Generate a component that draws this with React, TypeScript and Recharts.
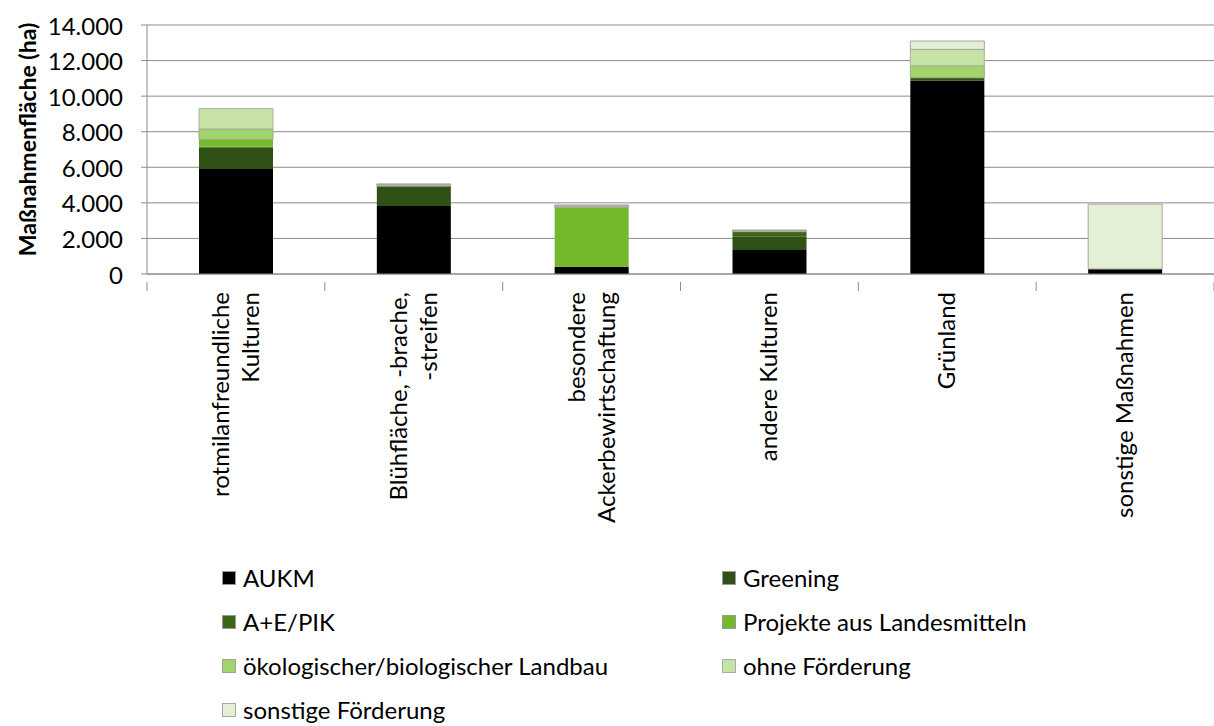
import { Bar, BarChart, CartesianGrid, XAxis, YAxis } from "recharts";

const CATEGORIES: string[] = [
  "rotmilanfreundliche\nKulturen",
  "Blühfläche, -brache,\n-streifen",
  "besondere\nAckerbewirtschaftung",
  "andere Kulturen",
  "Grünland",
  "sonstige Maßnahmen",
];

const AUKM: number[] = [5900, 3820, 400, 1350, 10870, 280];
const GREENING: number[] = [1200, 1100, 20, 750, 100, 0];
const AE_PIK: number[] = [60, 30, 0, 280, 70, 0];
const PROJEKTE: number[] = [410, 0, 3310, 0, 0, 0];
const OEKO: number[] = [580, 30, 50, 20, 670, 0];
const OHNE: number[] = [1150, 60, 60, 50, 920, 0];
const SONSTIGE: number[] = [0, 20, 40, 20, 470, 3650];

const Y_TICKS: number[] = [0, 2000, 4000, 6000, 8000, 10000, 12000, 14000];

const SERIES = [
  { key: "aukm", name: "AUKM", values: AUKM, color: "#000000", stroke: "none" },
  { key: "greening", name: "Greening", values: GREENING, color: "#2f5117", stroke: "none" },
  { key: "aepik", name: "A+E/PIK", values: AE_PIK, color: "#3b6614", stroke: "none" },
  { key: "projekte", name: "Projekte aus Landesmitteln", values: PROJEKTE, color: "#74b929", stroke: "none" },
  { key: "oeko", name: "ökologischer/biologischer Landbau", values: OEKO, color: "#a3d36d", stroke: "#9aa88c" },
  { key: "ohne", name: "ohne Förderung", values: OHNE, color: "#c6e2a6", stroke: "#a8b09e" },
  { key: "sonstige", name: "sonstige Förderung", values: SONSTIGE, color: "#e3f0d6", stroke: "#a6a6a6" },
];

const data = CATEGORIES.map((name, i) => {
  const row: Record<string, string | number> = { name };
  SERIES.forEach((s) => {
    row[s.key] = s.values[i];
  });
  return row;
});

const FONT = "Lato, 'Open Sans', sans-serif";
const WIDTH = 1214;
const HEIGHT = 726;
const LEFT = 147;
const RIGHT = 0;
const BAND = (WIDTH - LEFT - RIGHT) / CATEGORIES.length;

const fmt = (v: number) => v.toLocaleString("de-DE");

const XTick = (props: any) => {
  const { x, y, payload, index } = props;
  const lines: string[] = String(payload.value).split("\n");
  const ty = y + 10;
  const spacing = 30;
  const start = -((lines.length - 1) * spacing) / 2;
  return (
    <g>
      <line x1={x - BAND / 2} x2={x - BAND / 2} y1={y} y2={y + 9} stroke="#8c8c8c" />
      {index === CATEGORIES.length - 1 && (
        <line x1={x + BAND / 2} x2={x + BAND / 2} y1={y} y2={y + 9} stroke="#8c8c8c" />
      )}
      <text
        transform={`rotate(-90, ${x}, ${ty})`}
        x={x}
        y={ty}
        textAnchor="end"
        fill="#000"
        fontSize={24}
        fontFamily={FONT}
      >
        {lines.map((l, i) => (
          <tspan key={i} x={x} y={ty + start + i * spacing + 8}>
            {l}
          </tspan>
        ))}
      </text>
    </g>
  );
};

const YTick = (props: any) => {
  const { x, y, payload } = props;
  return (
    <text x={x - 16} y={y} textAnchor="end" dominantBaseline="central" fill="#000" fontSize={24} fontFamily={FONT}>
      {fmt(payload.value)}
    </text>
  );
};

const ChartLegend = () => (
  <div
    style={{
      position: "absolute",
      left: 222,
      top: 563,
      display: "grid",
      gridTemplateColumns: "500px 420px",
      rowGap: 15,
      fontFamily: FONT,
      fontSize: 24,
      color: "#000",
    }}
  >
    {SERIES.map((s) => (
      <div key={s.key} style={{ display: "flex", alignItems: "center", height: 29 }}>
        <span
          style={{
            display: "inline-block",
            width: 14,
            height: 14,
            background: s.color,
            border: `1px solid ${s.stroke === "none" ? "#9a9a9a" : s.stroke}`,
            marginRight: 7,
            boxSizing: "border-box",
          }}
        />
        {s.name}
      </div>
    ))}
  </div>
);

const YLabel = (props: any) => {
  const { viewBox } = props;
  const cx = 27;
  const cy = viewBox.y + viewBox.height / 2 - 10;
  return (
    <text
      x={cx}
      y={cy}
      transform={`rotate(-90, ${cx}, ${cy})`}
      textAnchor="middle"
      dominantBaseline="central"
      fontSize={23}
      fontWeight="bold"
      fontFamily={FONT}
      fill="#000"
    >
      Maßnahmenfläche (ha)
    </text>
  );
};

export default function App() {
  return (
    <div style={{ position: "absolute", left: 0, top: 0, width: WIDTH, height: HEIGHT, background: "#fff" }}>
      <BarChart
        width={WIDTH}
        height={HEIGHT}
        data={data}
        margin={{ top: 25, right: RIGHT, bottom: 442, left: 0 }}
        barSize={74}
      >
        <CartesianGrid vertical={false} stroke="#8c8c8c" />
        <XAxis
          dataKey="name"
          interval={0}
          tick={<XTick />}
          tickLine={false}
          axisLine={{ stroke: "#8c8c8c" }}
          height={10}
        />
        <YAxis
          width={LEFT}
          domain={[0, 14000]}
          ticks={Y_TICKS}
          tick={<YTick />}
          tickLine={{ stroke: "#8c8c8c" }}
          tickSize={6}
          axisLine={{ stroke: "#8c8c8c" }}
          label={<YLabel />}
        />
        {SERIES.map((s) => (
          <Bar
            key={s.key}
            dataKey={s.key}
            name={s.name}
            stackId="a"
            fill={s.color}
            stroke={s.stroke}
            strokeWidth={1}
            isAnimationActive={false}
          />
        ))}
      </BarChart>
      <ChartLegend />
    </div>
  );
}
